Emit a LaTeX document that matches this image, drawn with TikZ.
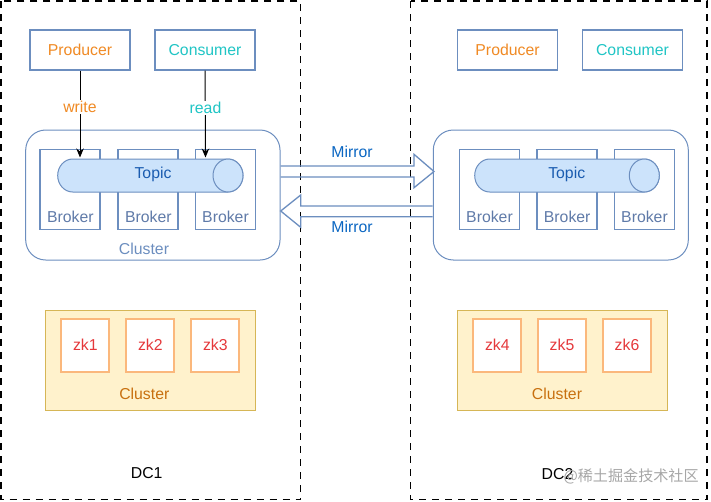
\documentclass[tikz,border=0pt]{standalone}
\usepackage{fontspec}
\setmainfont{Liberation Sans}
\newfontfamily\cjkfont{Noto Sans CJK SC}
\usetikzlibrary{arrows.meta}
\definecolor{boxblue}{HTML}{6C8EBF}
\definecolor{brokertxt}{HTML}{5F7AA8}
\definecolor{prodorange}{HTML}{F08A24}
\definecolor{conscyan}{HTML}{20C5C5}
\definecolor{topicfill}{HTML}{CCE3FB}
\definecolor{topictxt}{HTML}{1A5CB0}
\definecolor{mirrortxt}{HTML}{0A66C2}
\definecolor{zkfill}{HTML}{FFF2CC}
\definecolor{zkstroke}{HTML}{D6B656}
\definecolor{zkbox}{HTML}{FBB87C}
\definecolor{zkred}{HTML}{E5383B}
\definecolor{zkcluster}{HTML}{C8700F}
\begin{document}
\begin{tikzpicture}[x=1pt,y=-1pt,
  font=\fontsize{15.8}{18}\selectfont,
  line width=1.2pt,
  dcbox/.style={draw=black,dash pattern=on 7pt off 6pt,line width=1.2pt},
  pcbox/.style={draw=boxblue,fill=white,minimum width=100pt,minimum height=40pt,inner sep=0pt},
  brokerbox/.style={draw=boxblue,line width=1.8pt,minimum width=60pt,minimum height=80pt,inner sep=0pt},
  brokerlbl/.style={text=brokertxt,inner sep=0pt},
  clusterbox/.style={draw=boxblue,rounded corners=20pt,line width=1pt},
  topicshape/.style={draw=boxblue,fill=topicfill,line width=1pt},
  topiclbl/.style={text=topictxt,inner sep=0pt},
  mirrorarrow/.style={draw=boxblue,line width=1.3pt,line join=miter},
  mirrorlbl/.style={text=mirrortxt,inner sep=0pt},
  zkcl/.style={draw=zkstroke,fill=zkfill,line width=1pt},
  zkbx/.style={draw=zkbox,fill=white,line width=2pt,minimum width=48pt,minimum height=53pt,inner sep=0pt,text=zkred},
  zkcllbl/.style={text=zkcluster,inner sep=0pt},
  flow/.style={draw=black,line width=1pt,-{Stealth[length=9pt,width=7.5pt]}},
  flowlbl/.style={fill=white,inner sep=1.5pt}
]
\useasboundingbox (0,0) rectangle (711,501);

% data centre outlines
\draw[dcbox] (1,1) rectangle (300.7,499.5);
\draw[dcbox] (410.5,1) rectangle (707,499.5);

% ---------------- DC1 ----------------
\node[pcbox,text=prodorange] (prod1) at (80,50) {Producer};
\node[pcbox,text=conscyan] (cons1) at (205,50) {Consumer};

\draw[clusterbox] (25.7,130) rectangle (280,260);
\node[brokerbox] (b11) at (70.3,189.5) {};
\node[brokerbox] (b12) at (148.3,189.5) {};
\node[brokerbox] (b13) at (225.5,189.5) {};
\node[brokerlbl] at (70.3,216.5) {Broker};
\node[brokerlbl] at (148.3,216.5) {Broker};
\node[brokerlbl] at (225.5,216.5) {Broker};
\node[text=boxblue,inner sep=0pt] (cl1) at (144,249) {Cluster};

% topic cylinder DC1
\path[topicshape] (72.7,159) -- (228,159) arc[start angle=-90,end angle=90,x radius=15,y radius=16.5]
  -- (72.7,192) arc[start angle=90,end angle=270,x radius=15,y radius=16.5] -- cycle;
\path[topicshape] (228,175.5) ellipse[x radius=15,y radius=16.5];
\node[topiclbl] (topic1) at (153,174.5) {Topic};
\coordinate (t1w) at (80,157.5);
\coordinate (t1r) at (205.5,157.5);

\draw[flow] (prod1.south) -- (t1w);
\draw[flow] (cons1.south) -- (t1r);
\node[flowlbl,text=prodorange] at (80,107) {write};
\node[flowlbl,text=conscyan] at (205.5,108) {read};

% zookeeper DC1
\draw[zkcl] (45,310) rectangle (255.3,410);
\node[zkbx] (zk1) at (85.3,345) {zk1};
\node[zkbx] (zk2) at (150.3,345) {zk2};
\node[zkbx] (zk3) at (215.3,345) {zk3};
\node[zkcllbl] at (144.3,394.3) {Cluster};

\node[inner sep=0pt] (dc1) at (146.7,473) {DC1};

% ---------------- DC2 ----------------
\node[pcbox,text=prodorange] (prod2) at (507.5,50) {Producer};
\node[pcbox,text=conscyan] (cons2) at (632.5,50) {Consumer};

\draw[clusterbox] (433.3,130) rectangle (688.3,260);
\node[brokerbox] (b21) at (489.5,189.5) {};
\node[brokerbox] (b22) at (567.2,189.5) {};
\node[brokerbox] (b23) at (644.5,189.5) {};
\node[brokerlbl] at (489.5,216.5) {Broker};
\node[brokerlbl] at (567.2,216.5) {Broker};
\node[brokerlbl] at (644.5,216.5) {Broker};

\path[topicshape] (489.7,159) -- (644.3,159) arc[start angle=-90,end angle=90,x radius=15,y radius=16.5]
  -- (489.7,192) arc[start angle=90,end angle=270,x radius=15,y radius=16.5] -- cycle;
\path[topicshape] (644.3,175.5) ellipse[x radius=15,y radius=16.5];
\node[topiclbl] (topic2) at (566.7,174) {Topic};

\draw[zkcl] (457.3,310) rectangle (667.7,410);
\node[zkbx] (zk4) at (497.3,345) {zk4};
\node[zkbx] (zk5) at (562,345) {zk5};
\node[zkbx] (zk6) at (627,345) {zk6};
\node[zkcllbl] at (557,394.3) {Cluster};

\node[inner sep=0pt] (dc2) at (557.5,474) {DC2};

% ---------------- mirror arrows ----------------
\draw[mirrorarrow] (280.7,166) -- (414,166) -- (414,154.3) -- (434,171.5) -- (414,187.7)
  -- (414,177) -- (280.7,177);
\draw[mirrorarrow] (432.7,206) -- (300.7,206) -- (300.7,195) -- (280.7,211) -- (300.7,227.3)
  -- (300.7,216.7) -- (432.7,216.7);
\node[mirrorlbl] (m1) at (352,152) {Mirror};
\node[mirrorlbl] (m2) at (352,227) {Mirror};

% watermark
\node[anchor=west,inner sep=0pt,text=black!35,font=\cjkfont\fontsize{15.1}{18}\selectfont] (wm) at (563,476) {@稀土掘金技术社区};
\end{tikzpicture}
\end{document}
